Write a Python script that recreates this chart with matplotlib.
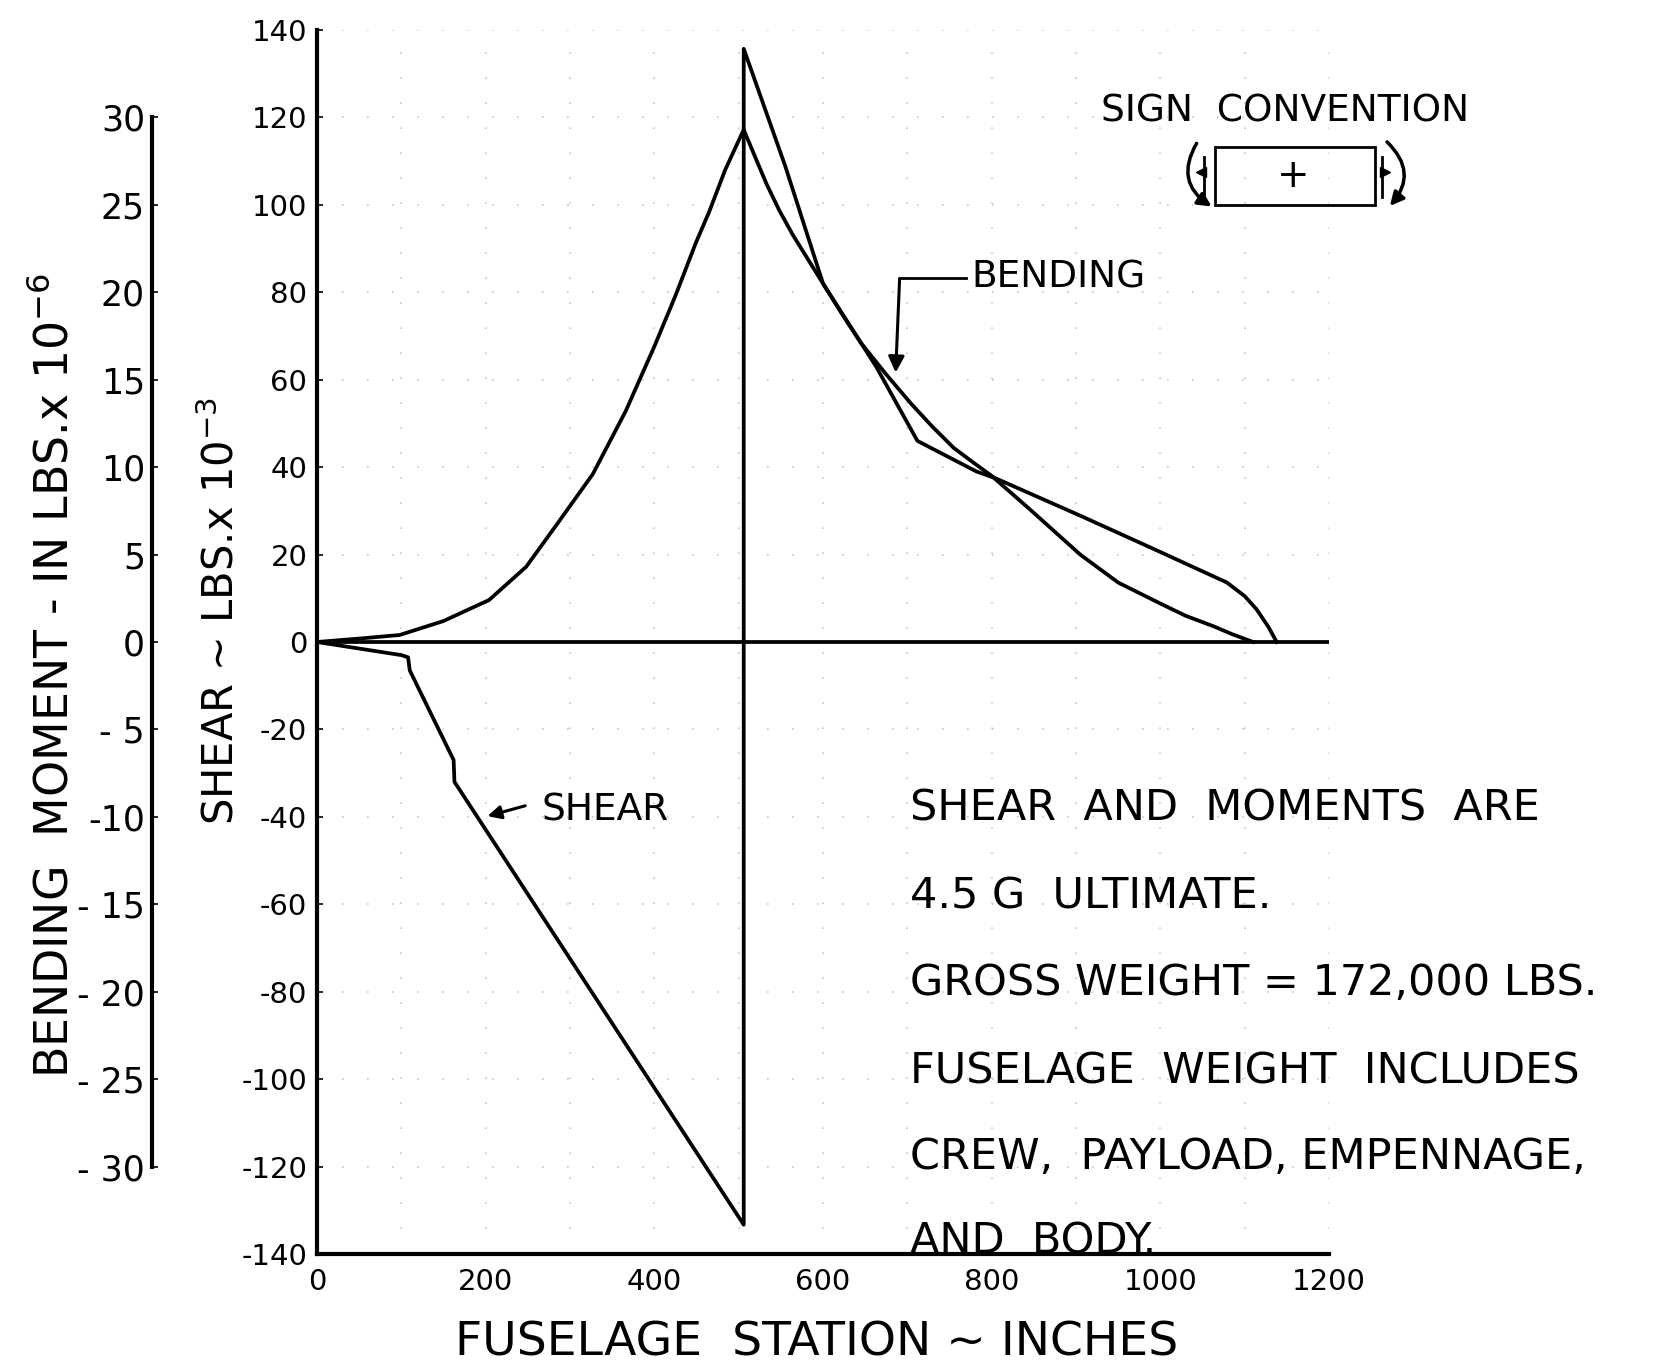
import matplotlib.pyplot as plt
from matplotlib.patches import Rectangle, FancyArrowPatch

plt.rcParams['axes.unicode_minus'] = False
plt.rcParams['font.family'] = ['DejaVu Sans']

# shear (lbs x 10^-3) vs fuselage station (in)
station_shear = [0, 100, 108, 110, 162, 163, 506, 506, 555, 600, 663, 712,
                 782, 804, 905, 1001, 1079, 1100, 1114, 1128, 1138]
shear = [0, -3, -3.5, -6.5, -27, -32, -133.3, 135.7, 109, 82, 63, 46,
         39, 37.5, 28.9, 20.5, 13.6, 10.5, 7.5, 3.5, 0]

# bending moment (in-lbs x 10^-6) vs fuselage station (in)
station_bend = [0, 51, 98, 150, 204, 248, 287, 327, 366, 400, 425, 449, 465,
                484, 506, 519, 533, 548, 564, 582, 600, 622, 645, 675, 705,
                730, 755, 780, 800, 845, 875, 905, 950, 1000, 1030, 1063,
                1085, 1110]
moment = [0, 0.2, 0.4, 1.2, 2.4, 4.3, 6.9, 9.6, 13.2, 16.9, 19.8, 22.8, 24.6,
          27.0, 29.3, 27.8, 26.2, 24.7, 23.3, 21.9, 20.5, 18.8, 17.1, 15.3,
          13.6, 12.3, 11.1, 10.2, 9.5, 7.6, 6.3, 5.0, 3.4, 2.2, 1.5, 0.9,
          0.45, 0]

shear_ticks = list(range(-140, 141, 20))
moment_ticks = list(range(-30, 31, 5))
moment_labels = ['- 30', '- 25', '- 20', '- 15', '-10', '- 5', '0',
                 '5', '10', '15', '20', '25', '30']
station_ticks = [0, 200, 400, 600, 800, 1000, 1200]
notes = ['SHEAR  AND  MOMENTS  ARE',
         '4.5 G  ULTIMATE.',
         'GROSS WEIGHT = 172,000 LBS.',
         'FUSELAGE  WEIGHT  INCLUDES',
         'CREW,  PAYLOAD, EMPENNAGE,',
         'AND  BODY.']
notes_y = [-38.2, -58.3, -77.9, -98.2, -117.8, -137.2]

fig = plt.figure(figsize=(16.74, 13.68), dpi=100)
ax = fig.add_axes([317 / 1674, 1 - 1254 / 1368, 1012 / 1674, 1224 / 1368])

lw = 2.7
ax.plot(station_shear, shear, color='black', lw=lw, solid_joinstyle='round')
ax.axhline(0, color='black', lw=lw)
ax.set_xlim(0, 1200)
ax.set_ylim(-140, 140)

ax_m = ax.twinx()
ax_m.plot(station_bend, moment, color='black', lw=lw, solid_joinstyle='round')
ax_m.set_ylim(-35, 35)

# spines
for s in ['top', 'right']:
    ax.spines[s].set_visible(False)
ax.spines['left'].set_linewidth(3)
ax.spines['bottom'].set_linewidth(3)
for s in ['top', 'right', 'bottom']:
    ax_m.spines[s].set_visible(False)
ax_m.spines['left'].set_visible(True)
ax_m.spines['left'].set_position(('axes', -0.163))
ax_m.spines['left'].set_bounds(-30, 30)
ax_m.spines['left'].set_linewidth(3)
ax_m.yaxis.set_ticks_position('left')

ax.set_yticks(shear_ticks)
ax.tick_params(axis='y', direction='in', length=4, width=1.2, labelsize=21, pad=7)
ax_m.set_yticks(moment_ticks)
ax_m.set_yticklabels(moment_labels)
ax_m.tick_params(axis='y', direction='in', length=4, width=1.2, labelsize=25, pad=5)

ax.set_xticks(station_ticks)
ax.set_xticks(list(range(100, 1200, 200)), minor=True)
ax.tick_params(axis='x', which='both', length=0, labelsize=21, pad=10)

# faint drafting grid
ax.grid(True, which='both', axis='x', color='#c8c8c8', lw=1.2, linestyle=(0, (1, 14)))
ax.grid(True, axis='y', color='#c8c8c8', lw=1.2, linestyle=(0, (1, 14)))
ax.set_axisbelow(True)

# labels
fig.text(817 / 1674, 1 - 1343 / 1368, 'FUSELAGE  STATION ~ INCHES',
         fontsize=34, ha='center', va='center')
fig.text(221 / 1674, 1 - 611 / 1368, r'SHEAR ~ LBS.x 10$^{-3}$',
         fontsize=30, rotation=90, ha='center', va='center')
fig.text(55 / 1674, 1 - 675 / 1368, r'BENDING  MOMENT - IN LBS.x 10$^{-6}$',
         fontsize=33, rotation=90, ha='center', va='center')

# curve call-outs
ax.plot([691, 770], [83.3, 83.3], color='black', lw=2)
ax.annotate('', xy=(686, 61), xytext=(691, 83.8),
            arrowprops=dict(arrowstyle='-|>', lw=2.2, color='black', mutation_scale=24))
ax.text(776, 83.3, 'BENDING', fontsize=27, ha='left', va='center')
ax.annotate('', xy=(199, -40), xytext=(250, -37.3),
            arrowprops=dict(arrowstyle='-|>', lw=2.2, color='black', mutation_scale=20))
ax.text(266, -38.6, 'SHEAR', fontsize=27, ha='left', va='center')

for txt, yy in zip(notes, notes_y):
    ax.text(703, yy, txt, fontsize=31, ha='left', va='center', clip_on=False)

# sign convention sketch
ov = fig.add_axes([0, 0, 1, 1])
ov.set_xlim(0, 1674)
ov.set_ylim(1368, 0)
ov.axis('off')
ov.text(1285, 112, 'SIGN  CONVENTION', fontsize=27, ha='center', va='center')
ov.add_patch(Rectangle((1215, 147), 160, 58, fill=False, lw=2, color='black'))
ov.text(1293, 176, '+', fontsize=28, ha='center', va='center')
ov.add_patch(FancyArrowPatch((1198, 141), (1214, 208), connectionstyle='arc3,rad=0.5',
                             arrowstyle='-|>', mutation_scale=20, lw=2.5, color='black'))
ov.add_patch(FancyArrowPatch((1385, 140), (1388, 208), connectionstyle='arc3,rad=-0.5',
                             arrowstyle='-|>', mutation_scale=20, lw=2.5, color='black'))
ov.plot([1204, 1204], [157, 197], color='black', lw=2)
ov.plot([1201], [172], marker='<', color='black', ms=7)
ov.plot([1382, 1382], [157, 197], color='black', lw=2)
ov.plot([1385], [172], marker='>', color='black', ms=7)

fig.savefig('out.png', dpi=100, facecolor='white')
